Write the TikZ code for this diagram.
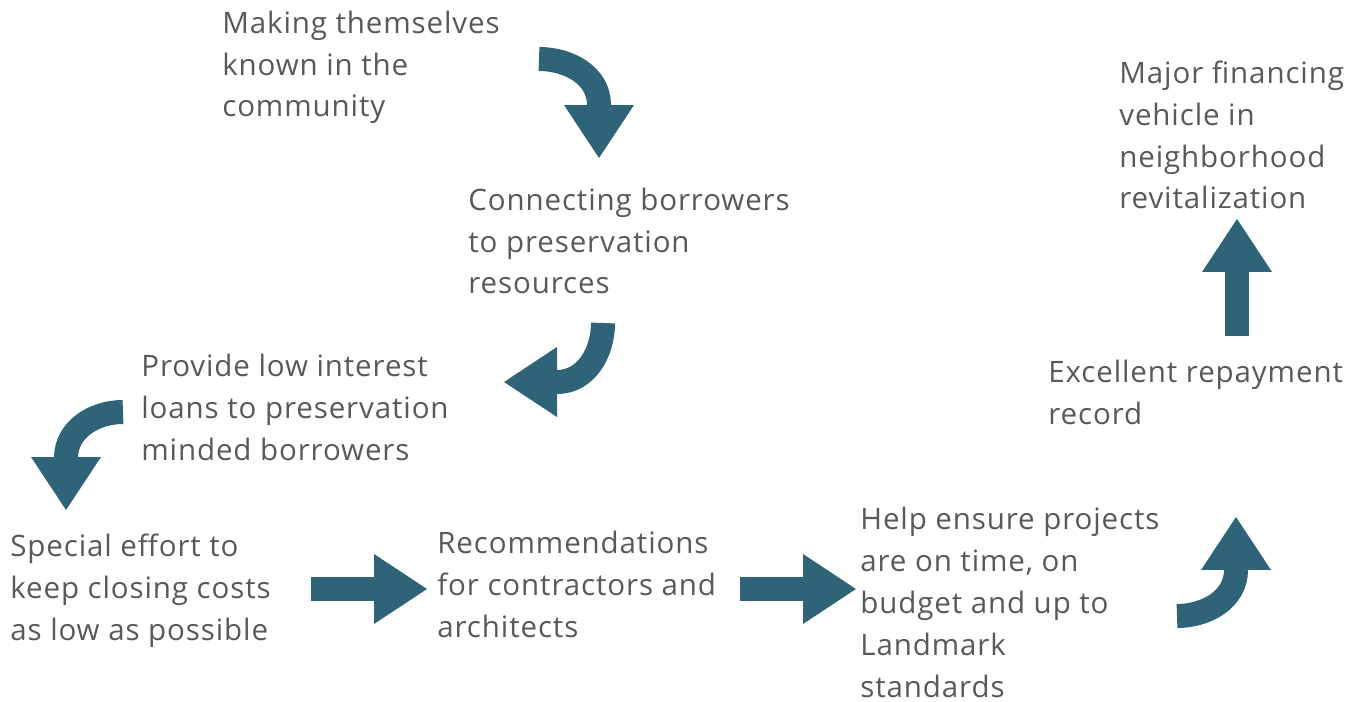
\documentclass[tikz,border=0pt]{standalone}
\usepackage{fontspec}
\usepackage{tikz}
\usetikzlibrary{arrows.meta}
\newfontfamily\notefont[LetterSpace=3]{Open Sans}
\definecolor{Slate}{HTML}{2E6378}
\definecolor{Ash}{HTML}{595959}
\tikzset{
  note/.style={
    anchor=base west, inner sep=0pt, align=left, text=Ash,
    font=\notefont\fontsize{16.8pt}{23.8pt}\selectfont
  },
  flow/.style={-{Triangle[length=1.06cm,width=1.4cm,line width=0pt]},
    line width=0.48cm, draw=Slate}
}
\begin{document}
\begin{tikzpicture}[x=0.02cm,y=-0.02cm]
    \useasboundingbox (0,0) rectangle (1364,702);
    % base anchor sits on the last line
    \node[note] (a) at (222,117) {Making themselves\\known in the\\community};
    \node[note] (b) at (468,294) {Connecting borrowers\\to preservation\\resources};
    \node[note] (c) at (141,460) {Provide low interest\\loans to preservation\\minded borrowers};
    \node[note] (d) at (10,640) {Special effort to\\keep closing costs\\as low as possible};
    \node[note] (e) at (437,637) {Recommendations\\for contractors and\\architects};
    \node[note] (f) at (860,697) {Help ensure projects\\are on time, on\\budget and up to\\Landmark\\standards};
    \node[note] (g) at (1048,424) {Excellent repayment\\record};
    \node[note] (h) at (1119,209) {Major financing\\vehicle in\\neighborhood\\revitalization};
    % arrow points
    \coordinate (ab1) at (539,59);  \coordinate (ab2) at (599,105); \coordinate (ab3) at (599,158);
    \coordinate (bc1) at (603,323); \coordinate (bc2) at (557,382); \coordinate (bc3) at (504,382);
    \coordinate (cd1) at (123,412); \coordinate (cd2) at (66,458);  \coordinate (cd3) at (66,510);
    \coordinate (de1) at (311,589); \coordinate (de2) at (427,589);
    \coordinate (ef1) at (740,589); \coordinate (ef2) at (856,589);
    \coordinate (fg1) at (1177,616); \coordinate (fg2) at (1236,570); \coordinate (fg3) at (1236,517);
    \coordinate (gh1) at (1237,336); \coordinate (gh2) at (1237,219);
    \draw[flow] (ab1) to[out=0,in=90] (ab2) -- (ab3);
    \draw[flow] (bc1) to[out=-90,in=0] (bc2) -- (bc3);
    \draw[flow] (cd1) to[out=180,in=90] (cd2) -- (cd3);
    \draw[flow] (de1) -- (de2);
    \draw[flow] (ef1) -- (ef2);
    \draw[flow] (fg1) to[out=0,in=-90] (fg2) -- (fg3);
    \draw[flow] (gh1) -- (gh2);
\end{tikzpicture}
\end{document}
